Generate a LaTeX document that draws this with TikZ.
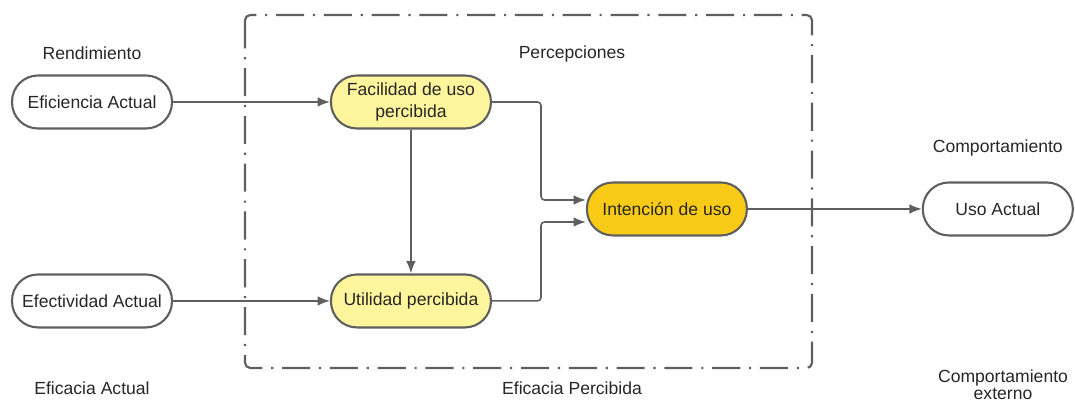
\documentclass[tikz,border=0pt]{standalone}
\usepackage{fontspec}
\setmainfont{Liberation Sans}
\usetikzlibrary{positioning,arrows.meta}

\definecolor{linegray}{HTML}{5F5F5F}
\definecolor{softyellow}{HTML}{FFF59D}
\definecolor{deepyellow}{HTML}{F9CA16}

\tikzset{
	stage/.style={draw=linegray,line width=1.2pt,rounded corners=0.52cm,minimum width=3.2cm,minimum height=1.06cm,align=center,font=\fontsize{10}{12}\selectfont,text=black!85,inner sep=2pt},
	perceived/.style={stage,fill=softyellow},
	intent/.style={stage,fill=deepyellow},
	caption/.style={font=\fontsize{10}{12}\selectfont,text=black!85,align=center},
	flow/.style={draw=linegray,line width=0.9pt,-{Latex[length=7pt,width=5.5pt]},rounded corners=2pt}
}

\begin{document}
\begin{tikzpicture}[x=0.02cm,y=-0.02cm,node distance=2cm,on grid]
	\useasboundingbox (0,0) rectangle (1075,401);
	\draw[linegray,line width=1.2pt,rounded corners=3pt,dash pattern=on 16pt off 5pt on 1.2pt off 5pt] (245,15) rectangle (812,368);

	\node (efic) [stage] at (92,102) {Eficiencia Actual};
	\node (facil) [perceived,right=6.38cm of efic] {Facilidad de uso\\percibida};
	\node (util) [perceived,below=3.98cm of facil] {Utilidad percibida};
	\node (efect) [stage,left=6.38cm of util] {Efectividad Actual};
	\node (inten) [intent,below right=2.14cm and 5.12cm of facil] {Intención de uso};
	\node (uso) [stage,minimum width=3cm,right=6.62cm of inten] {Uso Actual};

	\node (rend) [caption,above=0.98cm of efic] {Rendimiento};
	\node (perc) [caption] at (572,54) {Percepciones};
	\node (comp) [caption,above=1.22cm of uso] {Comportamiento};
	\node (efac) [caption,below=1.74cm of efect] {Eficacia Actual};
	\node (efper) [caption] at (572,388) {Eficacia Percibida};
	\node (compext) [caption,font=\fontsize{10}{9.5}\selectfont] at (1003,385) {Comportamiento\\externo};

	\coordinate (j1) at (541,200);
	\coordinate (j2) at (541,222);
	\path
		(efic) edge[flow] (facil)
		(efect) edge[flow] (util)
		(facil) edge[flow] (util)
		(inten) edge[flow] (uso);
	\draw[flow] (facil.east) -| (j1) -- (inten.west |- j1);
	\draw[flow] (util.east) -| (j2) -- (inten.west |- j2);
\end{tikzpicture}
\end{document}
